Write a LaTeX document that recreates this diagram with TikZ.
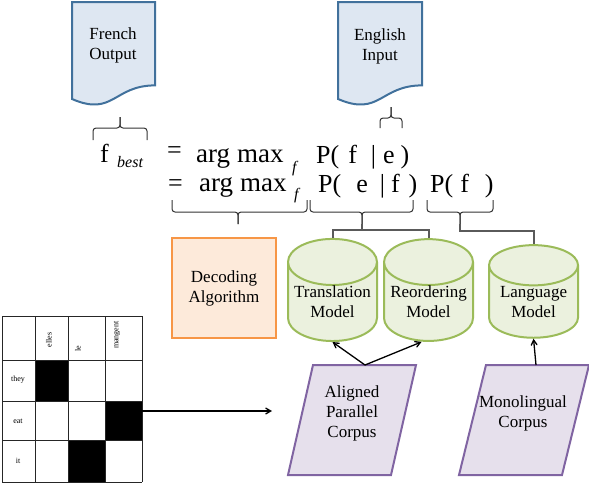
\documentclass[tikz,border=0pt]{standalone}
\usepackage{fontspec}
\setmainfont{Liberation Serif}
\usepackage{tikz}
\usetikzlibrary{shapes.geometric,arrows,positioning}
\definecolor{docblue}{RGB}{65,113,156}
\definecolor{docfill}{RGB}{222,231,242}
\definecolor{algoorange}{RGB}{247,150,70}
\definecolor{algofill}{RGB}{253,234,218}
\definecolor{modelgreen}{RGB}{155,187,89}
\definecolor{modelfill}{RGB}{235,241,222}
\definecolor{corpuspurple}{RGB}{128,100,162}
\definecolor{corpusfill}{RGB}{230,224,236}
\definecolor{bargray}{RGB}{90,90,90}
\tikzstyle{boxtext}=[align=center,font=\fontsize{17}{20}\selectfont,inner sep=0pt]
\tikzstyle{docshape}=[draw=docblue,fill=docfill,line width=2pt]
\tikzstyle{algo}=[boxtext,draw=algoorange,fill=algofill,line width=2pt,minimum width=104pt,minimum height=100pt]
\tikzstyle{model}=[boxtext,cylinder,shape border rotate=90,aspect=0.6,draw=modelgreen,fill=modelfill,line width=2pt,minimum width=89pt,minimum height=77pt]
\tikzstyle{corpus}=[draw=corpuspurple,fill=corpusfill,line width=2pt]
\tikzstyle{brace}=[draw=black!80,line width=1pt,rounded corners=3pt]
\tikzstyle{bar}=[draw=bargray,line width=2pt]
\tikzstyle{eqn}=[font=\fontsize{26}{26}\selectfont,inner sep=0pt,anchor=base west]
\tikzstyle{eqsub}=[font=\fontsize{16}{16}\selectfont\itshape,inner sep=0pt,anchor=base west]
\tikzstyle{cell}=[font=\fontsize{8}{8}\selectfont,inner sep=0pt]
\tikzstyle{gridline}=[draw=black!85,line width=1pt]
\tikzstyle{arr}=[->,line width=1.3pt]

\begin{document}
\begin{tikzpicture}[x=1pt,y=-1pt,>=angle 60]
\useasboundingbox (0,0) rectangle (589,483);
% documents
\draw[docshape] (155,85.4) -- (155,2) -- (72,2) -- (72,99) .. controls (113.5,117) and (113.5,85.4) .. (155,85.4) -- cycle;
\draw[docshape] (422,85.4) -- (422,2) -- (338,2) -- (338,99) .. controls (380,117) and (380,85.4) .. (422,85.4) -- cycle;
\node [boxtext] (fo) at (113,45) {French\\Output};
\node [boxtext] (ei) at (380,46) {English\\Input};
% equation
\node [eqn] (fb) at (100,162) {f};
\node [eqsub] (best) at (117,167) {best};
\node [eqn] (eq1) at (167,158) {=};
\node [eqn,font=\fontsize{27}{27}\selectfont] (am1) at (196,162) {arg\hspace{7pt}max};
\node [eqsub] (sf1) at (292,172) {f};
\node [eqn] (pfe) at (316,163) {P(\hspace{9pt}f\hspace{14pt}|\hspace{7pt}e\hspace{6pt})};
\node [eqn] (eq2) at (168,191) {=};
\node [eqn,font=\fontsize{27}{27}\selectfont] (am2) at (199,191) {arg\hspace{7pt}max};
\node [eqsub] (sf2) at (294,199) {f};
\node [eqn] (pef) at (318,192) {P(\hspace{15pt}e\hspace{12pt}|\hspace{6pt}f\hspace{9pt})};
\node [eqn] (pf) at (430,192) {P(\hspace{7pt}f\hspace{16pt})};
% braces
\draw[brace] (93,140) -- (93,128) -- (120,128) -- (120,117);
\draw[brace] (147,140) -- (147,128) -- (120,128) -- (120,117);
\draw[brace] (380,128) -- (380,118) -- (391,118) -- (391,107);
\draw[brace] (402,128) -- (402,118) -- (391,118) -- (391,107);
\draw[brace] (172,200) -- (172,212) -- (238,212) -- (238,224);
\draw[brace] (307,200) -- (307,212) -- (238,212) -- (238,224);
\draw[brace] (310,200) -- (310,212) -- (362,212) -- (362,224);
\draw[brace] (413,200) -- (413,212) -- (362,212) -- (362,224);
\draw[brace] (427,200) -- (427,212) -- (460,212) -- (460,224);
\draw[brace] (493,200) -- (493,212) -- (460,212) -- (460,224);
% models
\node [algo] (dec) at (224,288) {Decoding\\Algorithm};
\node [model] (tm) at (332.5,302) {Translation\\Model};
\node [model] [right=5pt of tm] (rm) {Reordering\\Model};
\node [model] [right=14pt of rm] (lm) {Language\\Model};
\coordinate (tmrmbar) at (362,230);
\coordinate (lmbar) at (460,231);
\draw[bar] (362,224) -- (tmrmbar);
\draw[bar] (tm.north) |- (tmrmbar) -| (rm.north);
\draw[bar] (460,224) -- (lmbar) -| (lm.north);
% corpora
\draw[corpus] (313,365) -- (416,365) -- (391,475) -- (288,475) -- cycle;
\draw[corpus] (486,365) -- (589,365) -- (562,475) -- (459,475) -- cycle;
\node [boxtext] (apc) at (352,413) {Aligned\\Parallel\\Corpus};
\node [boxtext] (mc) at (523,413) {Monolingual\\Corpus};
\coordinate (apctop) at (365,365);
\coordinate (mctop) at (536,365);
\draw[arr] (apctop) -- (tm.south);
\draw[arr] (apctop) -- ([xshift=-7pt]rm.south);
\draw[arr] (mctop) -- (lm.south);
% alignment grid
\fill (35,360) rectangle (68,401);
\fill (105,401) rectangle (142,440);
\fill (68,440) rectangle (105,482);
\foreach \x in {2,35,68,105,142}
  \draw[gridline] (\x,316) -- (\x,482);
\foreach \y in {316,360,401,440,482}
  \draw[gridline] (2,\y) -- (142,\y);
\node [cell] (they) at (18,380) {they};
\node [cell] (eat) at (18,421) {eat};
\node [cell] (it) at (18,461) {it};
\node [cell,rotate=90] (elles) at (49,340) {elles};
\node [cell,rotate=90] (le) at (78,349) {le};
\node [cell,rotate=90] (mangent) at (117,335) {mangent};
\node [minimum width=140pt,minimum height=166pt,inner sep=0pt] (grid) at (72,399) {};
\coordinate (gap) at (272,411);
\draw[arr] ([yshift=-12pt]grid.east) -- (gap);
\end{tikzpicture}
\end{document}
